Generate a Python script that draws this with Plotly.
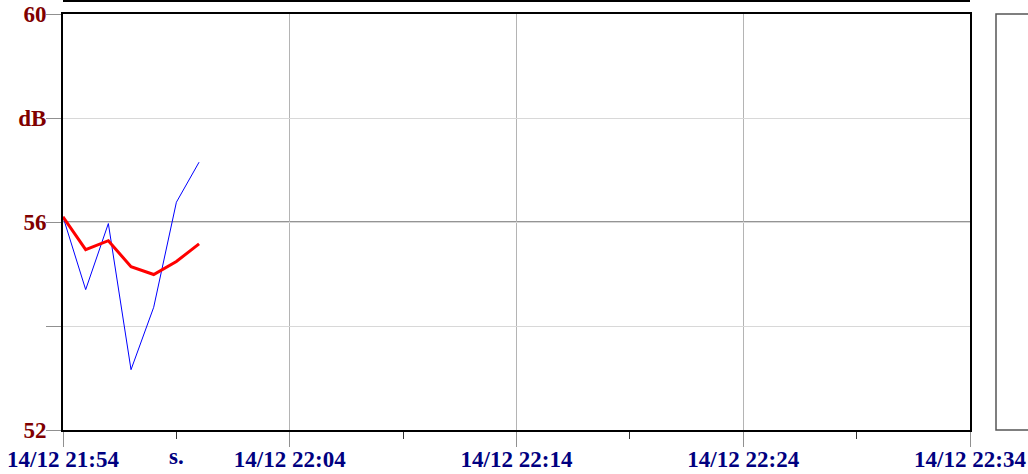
import plotly.graph_objects as go

# ---- data ----
times = ["2023-12-14 21:54", "2023-12-14 21:55", "2023-12-14 21:56", "2023-12-14 21:57",
         "2023-12-14 21:58", "2023-12-14 21:59", "2023-12-14 22:00"]
level_blue = [56.10, 54.70, 55.97, 53.16, 54.36, 56.38, 57.15]
level_red = [56.10, 55.47, 55.64, 55.14, 54.99, 55.24, 55.58]

x_tickvals = ["2023-12-14 21:54", "2023-12-14 22:04", "2023-12-14 22:14",
              "2023-12-14 22:24", "2023-12-14 22:34"]
x_ticktext = ["14/12 21:54", "14/12 22:04", "14/12 22:14", "14/12 22:24", "14/12 22:34"]
x_minorvals = ["2023-12-14 21:59", "2023-12-14 22:09", "2023-12-14 22:19", "2023-12-14 22:29"]
s_label_time = "2023-12-14 21:59"
s_label_text = "s."

y_tickvals = [52, 54, 56, 58, 60]
y_ticktext = ["52", "", "56", "dB", "60"]
y_refline = 56

FONT = "Liberation Serif"
FSIZE = 23

fig = go.Figure()
fig.add_trace(go.Scatter(x=times, y=level_blue, mode="lines",
                         line=dict(color="#0000ff", width=1), hoverinfo="skip"))
fig.add_trace(go.Scatter(x=times, y=level_red, mode="lines",
                         line=dict(color="#ff0000", width=3), hoverinfo="skip"))

fig.update_layout(
    width=1028, height=474,
    margin=dict(l=63, r=58, t=14, b=44, autoexpand=False),
    paper_bgcolor="white", plot_bgcolor="white",
    showlegend=False,
    font=dict(family=FONT),
)

fig.update_xaxes(
    type="date", automargin=False,
    range=[x_tickvals[0], x_tickvals[-1]],
    tickmode="array", tickvals=x_tickvals, ticktext=x_ticktext,
    ticks="outside", ticklen=15, tickcolor="#909090", tickwidth=1,
    ticklabelstandoff=-8,
    tickfont=dict(family=FONT, size=FSIZE, color="#000080", weight="bold"),
    showgrid=True, gridcolor="#b4b4b4", gridwidth=1,
    showline=True, linecolor="#000000", linewidth=2, mirror=True,
    zeroline=False,
    minor=dict(tickvals=x_minorvals, ticks="outside", ticklen=7,
               tickcolor="#333333", showgrid=False),
)

fig.update_yaxes(
    automargin=False,
    range=[52, 60],
    tickmode="array", tickvals=y_tickvals, ticktext=y_ticktext,
    ticks="outside", ticklen=15, tickcolor="#909090", tickwidth=1,
    ticklabelstandoff=-5,
    tickfont=dict(family=FONT, size=FSIZE, color="#800000", weight="bold"),
    showgrid=True, gridcolor="#d8d8d8", gridwidth=1,
    showline=True, linecolor="#000000", linewidth=2, mirror=True,
    zeroline=False,
)

# darker reference line at 56 dB
fig.add_shape(type="line", xref="paper", yref="y", x0=0, x1=1, y0=y_refline, y1=y_refline,
              line=dict(color="#707070", width=1.5), layer="between")

# top border line above plot
fig.add_shape(type="line", xref="paper", yref="paper", x0=0, x1=1,
              y0=(416 + 13) / 416, y1=(416 + 13) / 416,
              line=dict(color="#000000", width=2))

# right-side empty box
fig.add_shape(type="rect", xref="paper", yref="paper",
              x0=(996 - 63) / 907, x1=(1040 - 63) / 907, y0=0, y1=1,
              line=dict(color="#555555", width=1.5), fillcolor="white")

# "s." label at the first minor tick
fig.add_annotation(x=s_label_time, y=0, xref="x", yref="paper",
                   text=s_label_text, showarrow=False, yanchor="top", yshift=-12,
                   font=dict(family=FONT, size=FSIZE, color="#000080", weight="bold"))

fig.write_html("out.html", config={"displayModeBar": False},
               post_script="document.body.style.margin='0';document.body.style.overflow='hidden';")
